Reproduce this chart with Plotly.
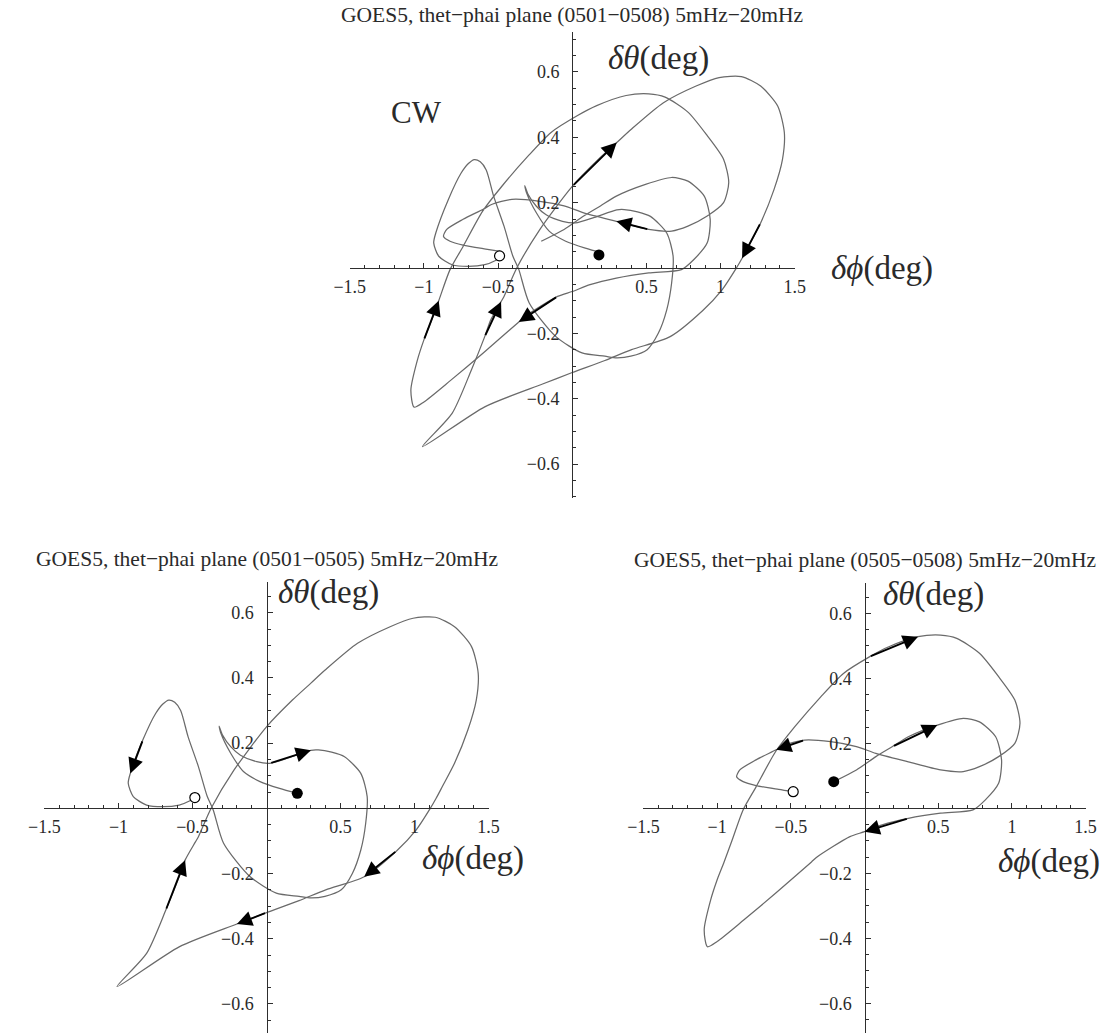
import plotly.graph_objects as go

W, H = 1119, 1033

# ---------------- data: (delta phi, delta theta) in degrees ----------------
# 0501-0505 : main trace (filled dot -> hook -> right loop -> left peak -> open dot)
a15_phi = [0.208, 0.088, -0.044, -0.154, -0.242, -0.308, -0.32, -0.297, -0.242, -0.176, -0.066, 0.022,
           0.15, 0.30, 0.35, 0.44, 0.527, 0.637, 0.68, 0.67, 0.637, 0.58, 0.505, 0.395, 0.30, 0.22,
           0.066, -0.11, -0.29, -0.36, -0.40, -0.46, -0.53, -0.58, -0.62, -0.66, -0.70, -0.75,
           -0.835, -0.92, -0.934, -0.90, -0.81, -0.70, -0.59, -0.517, -0.484]
a15_theta = [0.046, 0.061, 0.082, 0.112, 0.169, 0.23, 0.252, 0.225, 0.189, 0.163, 0.143, 0.138,
             0.155, 0.178, 0.179, 0.172, 0.158, 0.107, 0.036, -0.046, -0.128, -0.20, -0.25, -0.27, -0.275, -0.27,
             -0.26, -0.21, -0.107, -0.005, 0.036, 0.128, 0.22, 0.30, 0.325, 0.332, 0.32, 0.29,
             0.21, 0.107, 0.077, 0.036, 0.01, 0.005, 0.01, 0.023, 0.033]
# 0501-0505 : large clockwise loop through the lower-left cusp
b15_phi = [-0.374, -0.22, 0.0, 0.175, 0.30, 0.396, 0.615, 0.835, 0.99, 1.14, 1.27, 1.385, 1.43, 1.417,
           1.36, 1.27, 1.187, 1.145, 1.10, 1.01, 0.88, 0.66, 0.40, 0.22, 0.0, -0.20, -0.59, -1.01,
           -0.81, -0.68, -0.59, -0.55, -0.48, -0.46, -0.374]
b15_theta = [0.0, 0.117, 0.25, 0.332, 0.384, 0.424, 0.506, 0.557, 0.583, 0.586, 0.557, 0.496, 0.414, 0.332,
             0.24, 0.138, 0.066, 0.03, -0.005, -0.067, -0.13, -0.21, -0.25, -0.283, -0.32, -0.355, -0.425, -0.547,
             -0.445, -0.312, -0.21, -0.159, -0.103, -0.087, 0.0]

# 0505-0508 : single trace from filled dot to open dot
c58_phi = [-0.209, -0.055, 0.077, 0.19, 0.297, 0.494, 0.67, 0.78, 0.89, 0.93, 0.91, 0.82, 0.736, 0.516,
           0.297, 0.12, 0.0, -0.099, -0.32, -0.36, -0.60, -0.82, -1.0, -1.066, -1.088, -1.044, -1.0,
           -0.956, -0.90, -0.824, -0.736, -0.604, -0.473, -0.297, -0.143, 0.033, 0.165, 0.363, 0.516,
           0.626, 0.78, 0.91, 1.02, 1.055, 1.02, 0.91, 0.78, 0.67, 0.516, 0.297, 0.077, -0.055, -0.23,
           -0.407, -0.54, -0.60, -0.736, -0.846, -0.868, -0.824, -0.736, -0.583, -0.484]
c58_theta = [0.082, 0.118, 0.159, 0.19, 0.22, 0.256, 0.277, 0.266, 0.22, 0.149, 0.077, 0.026, -0.005, -0.015,
             -0.031, -0.051, -0.072, -0.087, -0.149, -0.165, -0.26, -0.344, -0.41, -0.426, -0.374, -0.282, -0.22,
             -0.169, -0.10, -0.005, 0.066, 0.174, 0.251, 0.343, 0.415, 0.466, 0.497, 0.528, 0.533,
             0.523, 0.477, 0.405, 0.333, 0.262, 0.2, 0.159, 0.128, 0.113, 0.118, 0.143, 0.169, 0.19, 0.205,
             0.21, 0.195, 0.18, 0.149, 0.118, 0.097, 0.082, 0.07, 0.058, 0.051]

# direction arrows, tail and head taken on the traces: (tail phi, tail theta, head phi, head theta)
arrows_all = [(0.0, 0.25, 0.30, 0.384), (0.516, 0.118, 0.297, 0.143), (1.27, 0.138, 1.145, 0.03),
              (-1.0, -0.22, -0.90, -0.10), (-0.59, -0.21, -0.48, -0.103), (-0.099, -0.087, -0.36, -0.165)]
arrows_15 = [(0.022, 0.138, 0.30, 0.178), (-0.835, 0.21, -0.92, 0.107), (-0.68, -0.312, -0.55, -0.159),
             (0.0, -0.32, -0.20, -0.355), (0.88, -0.13, 0.66, -0.21)]
arrows_58 = [(0.19, 0.19, 0.494, 0.256), (0.033, 0.466, 0.363, 0.528), (0.297, -0.031, 0.0, -0.072),
             (-0.407, 0.21, -0.60, 0.18)]

# start (filled) and end (open) markers
start_all, end_all = (0.18, 0.04), (-0.49, 0.037)
start_15, end_15 = (0.208, 0.046), (-0.484, 0.033)
start_58, end_58 = (-0.209, 0.082), (-0.484, 0.051)

titles = ["GOES5, thet\u2212phai plane (0501\u22120508) 5mHz\u221220mHz",
          "GOES5, thet\u2212phai plane (0501\u22120505) 5mHz\u221220mHz",
          "GOES5, thet\u2212phai plane (0505\u22120508) 5mHz\u221220mHz"]

x_ticks = [-1.5, -1, -0.5, 0.5, 1, 1.5]
y_ticks = [-0.6, -0.4, -0.2, 0.2, 0.4, 0.6]


def fmt(v):
    s = ("%g" % abs(v))
    return ("\u2212" + s) if v < 0 else s


# ---------------- panel geometry (pixels) ----------------
# cx/cy: pixel of the origin, sx/sy: pixels per degree, top/bot: vertical extent of the theta axis,
# title_y, th_lbl: position of the delta-theta label, ph_lbl: position of the delta-phi label
panels = [
    dict(cx=570.0, sx=152.0, cy=268.0, sy=326.7, top=32.0, bot=498.0,
         title_y=15, th_lbl=(605, 58), ph_lbl=(833, 268, "left")),
    dict(cx=256.7, sx=151.7, cy=808.3, sy=326.0, top=582.0, bot=1033.0,
         title_y=559, th_lbl=(266, 592), ph_lbl=(523, 858, "right")),
    dict(cx=869.5, sx=151.0, cy=808.3, sy=325.0, top=583.0, bot=1033.0,
         title_y=560, th_lbl=(886, 594), ph_lbl=(1113, 861, "right")),
]

FONT = "Liberation Serif"
CURVE = "#6a6a6a"
AXIS = "#2e2e2e"
TXT = "#2a2a2a"
THETA_LBL = "<i>\u03b4\u03b8</i>(deg)"
PHI_LBL = "<i>\u03b4\u03d5</i>(deg)"

fig = go.Figure()
layout = dict(width=W, height=H, margin=dict(l=0, r=0, t=0, b=0),
              paper_bgcolor="white", plot_bgcolor="rgba(0,0,0,0)", showlegend=False)
annotations = []

minor_x = [round(-1.5 + 0.1 * i, 2) for i in range(31)]
minor_x = [v for v in minor_x if abs(v * 2 - round(v * 2)) > 1e-6]
minor_y = [round(-0.7 + 0.05 * i, 3) for i in range(29)]
minor_y = [v for v in minor_y if abs(v * 5 - round(v * 5)) > 1e-6]

for k, p in enumerate(panels):
    n = "" if k == 0 else str(k + 1)
    xa, ya = "x" + n, "y" + n
    x_lo, x_hi = p["cx"] - 1.5 * p["sx"], p["cx"] + 1.5 * p["sx"]
    y_top = (p["cy"] - p["top"]) / p["sy"]
    y_bot = (p["cy"] - p["bot"]) / p["sy"]
    xdom = [x_lo / W, x_hi / W]
    ydom = [1 - p["bot"] / H, 1 - p["top"] / H]
    layout["xaxis" + n] = dict(
        domain=xdom, range=[-1.5, 1.5], anchor="free", position=1 - p["cy"] / H,
        showgrid=False, zeroline=False, showline=True, linecolor=AXIS, linewidth=1.3,
        ticks="inside", ticklen=5, tickwidth=1, tickcolor=AXIS,
        tickmode="array", tickvals=x_ticks, ticktext=[fmt(v) for v in x_ticks],
        tickfont=dict(family=FONT, size=18, color=TXT), ticklabelstandoff=2,
        minor=dict(ticks="inside", ticklen=3, tickcolor=AXIS, tickmode="array", tickvals=minor_x),
        fixedrange=True)
    layout["yaxis" + n] = dict(
        domain=ydom, range=[y_bot, y_top], anchor="free", position=p["cx"] / W,
        showgrid=False, zeroline=False, showline=True, linecolor=AXIS, linewidth=1.3,
        ticks="inside", ticklen=5, tickwidth=1, tickcolor=AXIS,
        tickmode="array", tickvals=y_ticks, ticktext=[fmt(v) for v in y_ticks],
        tickfont=dict(family=FONT, size=18, color=TXT), ticklabelstandoff=9,
        minor=dict(ticks="inside", ticklen=3, tickcolor=AXIS, tickmode="array", tickvals=minor_y),
        fixedrange=True)

    if k == 0:
        curves = [(a15_phi, a15_theta), (b15_phi, b15_theta), (c58_phi, c58_theta)]
        arrows, s, e = arrows_all, start_all, end_all
    elif k == 1:
        curves = [(a15_phi, a15_theta), (b15_phi, b15_theta)]
        arrows, s, e = arrows_15, start_15, end_15
    else:
        curves = [(c58_phi, c58_theta)]
        arrows, s, e = arrows_58, start_58, end_58

    for cx_, cy_ in curves:
        fig.add_trace(go.Scatter(x=cx_, y=cy_, mode="lines", xaxis=xa, yaxis=ya,
                                 line=dict(color=CURVE, width=1.25, shape="spline", smoothing=0.7),
                                 hoverinfo="skip"))
    for tx, ty, hx, hy in arrows:
        annotations.append(dict(x=hx, y=hy, ax=tx, ay=ty, xref=xa, yref=ya, axref=xa, ayref=ya,
                                text="", showarrow=True, arrowhead=2, arrowsize=1.6,
                                arrowwidth=1.9, arrowcolor="black"))
    fig.add_trace(go.Scatter(x=[s[0]], y=[s[1]], mode="markers", xaxis=xa, yaxis=ya,
                             marker=dict(size=11, color="black"), hoverinfo="skip"))
    fig.add_trace(go.Scatter(x=[e[0]], y=[e[1]], mode="markers", xaxis=xa, yaxis=ya,
                             marker=dict(size=10, color="white", line=dict(color="black", width=1.2)),
                             hoverinfo="skip"))

    # panel title
    annotations.append(dict(x=p["cx"] / W, y=1 - p["title_y"] / H, xref="paper", yref="paper",
                            text=titles[k], showarrow=False, xanchor="center", yanchor="middle",
                            font=dict(family=FONT, size=21.5, color=TXT)))
    # axis labels
    tx_, ty_ = p["th_lbl"]
    annotations.append(dict(x=tx_ / W, y=1 - ty_ / H, xref="paper", yref="paper",
                            text=THETA_LBL, showarrow=False, xanchor="left",
                            yanchor="middle", font=dict(family=FONT, size=33, color=TXT)))
    px_, py_, anc = p["ph_lbl"]
    annotations.append(dict(x=px_ / W, y=1 - py_ / H, xref="paper", yref="paper",
                            text=PHI_LBL, showarrow=False, xanchor=anc,
                            yanchor="middle", font=dict(family=FONT, size=33, color=TXT)))
    if k == 0:
        annotations.append(dict(x=-1.05, y=0.475, xref=xa, yref=ya, text="CW", showarrow=False,
                                font=dict(family=FONT, size=31, color=TXT)))

layout["annotations"] = annotations
fig.update_layout(**layout)
fig.write_html("out.html")
